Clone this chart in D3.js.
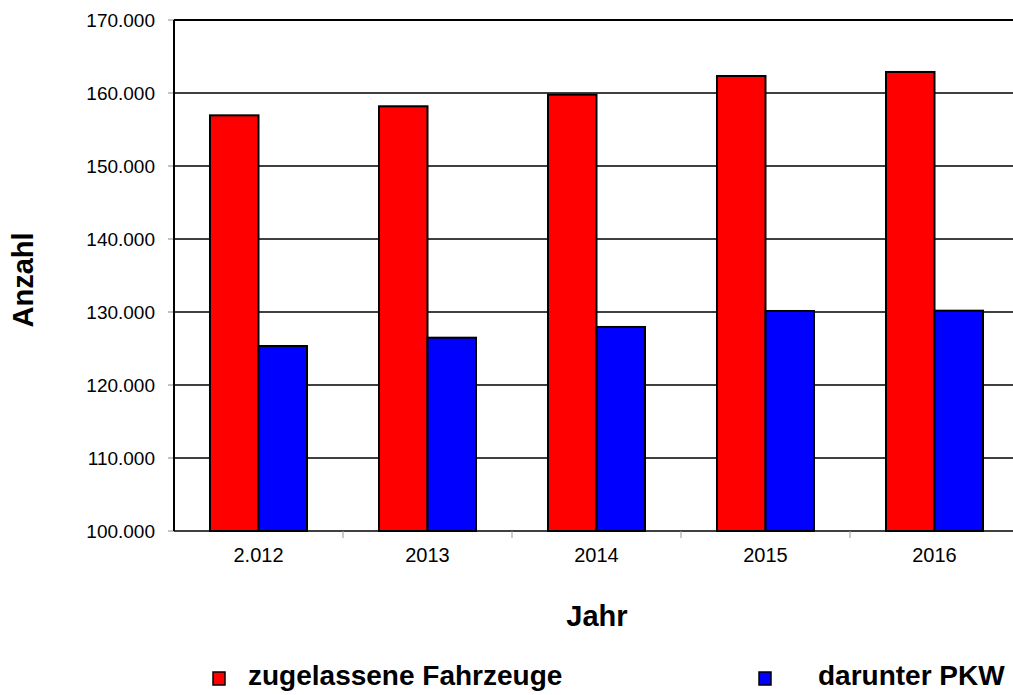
<!DOCTYPE html>
<html>
<head>
<meta charset="utf-8">
<script src="https://cdn.jsdelivr.net/npm/d3@7"></script>
<style>
  body { margin: 0; background: #fff; }
  svg { display: block; font-family: "Liberation Sans", Arial, sans-serif; }
</style>
</head>
<body>
<svg id="chart" width="1013" height="695"></svg>
<script>
// Data
const years = ["2.012", "2013", "2014", "2015", "2016"];
const fahrzeuge = [156940, 158180, 159770, 162330, 162880];
const pkw = [125340, 126480, 127950, 130140, 130180];
const seriesNames = ["zugelassene Fahrzeuge", "darunter PKW"];
const seriesColors = ["#ff0000", "#0000ff"];
const yTicks = [100000, 110000, 120000, 130000, 140000, 150000, 160000, 170000];

const svg = d3.select("#chart");
const margin = { left: 174, top: 20, right: -6, bottom: 164 };
const width = 1013 - margin.left - margin.right;
const height = 695 - margin.top - margin.bottom;

const g = svg.append("g").attr("transform", `translate(${margin.left},${margin.top})`);

const x = d3.scaleBand().domain(years).range([0, width]).paddingInner(0).paddingOuter(0);
const y = d3.scaleLinear().domain([100000, 170000]).range([height, 0]);
const fmt = d3.formatLocale({ decimal: ",", thousands: ".", grouping: [3], currency: ["", "€"] }).format(",d");

// gridlines
g.selectAll("line.grid")
  .data(yTicks.slice(1))
  .enter().append("line")
  .attr("class", "grid")
  .attr("x1", 0).attr("x2", width)
  .attr("y1", d => y(d)).attr("y2", d => y(d))
  .attr("stroke", "#000")
  .attr("stroke-width", d => d === 170000 ? 2 : 1.5);

// y axis ticks + labels
const yAxis = g.append("g");
yAxis.selectAll("line.tick")
  .data(yTicks).enter().append("line")
  .attr("x1", -6).attr("x2", 0)
  .attr("y1", d => y(d)).attr("y2", d => y(d))
  .attr("stroke", "#888").attr("stroke-width", 1);
yAxis.selectAll("text")
  .data(yTicks).enter().append("text")
  .attr("x", -19).attr("y", d => y(d))
  .attr("dy", "0.36em")
  .attr("text-anchor", "end")
  .style("font-size", "19px")
  .text(d => fmt(d));

// bars
const inner = d3.scaleBand().domain([0, 1]).range([0, x.bandwidth()]).paddingInner(0).paddingOuter(0.742);
const values = [fahrzeuge, pkw];
values.forEach((vals, s) => {
  g.selectAll(`rect.s${s}`)
    .data(vals).enter().append("rect")
    .attr("class", `s${s}`)
    .attr("x", (d, i) => x(years[i]) + inner(s))
    .attr("width", inner.bandwidth())
    .attr("y", d => y(d))
    .attr("height", d => height - y(d))
    .attr("fill", seriesColors[s])
    .attr("stroke", "#000")
    .attr("stroke-width", 2);
});

// x axis line and ticks
g.append("line")
  .attr("x1", 0).attr("x2", width)
  .attr("y1", height).attr("y2", height)
  .attr("stroke", "#000").attr("stroke-width", 1.5);
g.selectAll("line.xtick")
  .data(years.slice(1)).enter().append("line")
  .attr("x1", d => x(d)).attr("x2", d => x(d))
  .attr("y1", height).attr("y2", height + 7)
  .attr("stroke", "#999").attr("stroke-width", 1);
g.selectAll("text.xlab")
  .data(years).enter().append("text")
  .attr("x", d => x(d) + x.bandwidth() / 2)
  .attr("y", height + 31)
  .attr("text-anchor", "middle")
  .style("font-size", "20px")
  .text(d => d);

// left axis line
g.append("line")
  .attr("x1", 0).attr("x2", 0)
  .attr("y1", 0).attr("y2", height)
  .attr("stroke", "#000").attr("stroke-width", 2);

// axis titles
svg.append("text")
  .attr("transform", "translate(33,280) rotate(-90)")
  .attr("text-anchor", "middle")
  .style("font-size", "29px").style("font-weight", "bold")
  .text("Anzahl");
svg.append("text")
  .attr("x", 597).attr("y", 626)
  .attr("text-anchor", "middle")
  .style("font-size", "29px").style("font-weight", "bold")
  .text("Jahr");

// legend
const legendPos = [{ sx: 213, tx: 248 }, { sx: 759, tx: 818 }];
seriesNames.forEach((name, s) => {
  svg.append("rect")
    .attr("x", legendPos[s].sx).attr("y", 672)
    .attr("width", 12).attr("height", 13)
    .attr("fill", seriesColors[s])
    .attr("stroke", "#000").attr("stroke-width", 1.5);
  svg.append("text")
    .attr("x", legendPos[s].tx).attr("y", 685)
    .style("font-size", "28px").style("font-weight", "bold")
    .text(name);
});
</script>
</body>
</html>
